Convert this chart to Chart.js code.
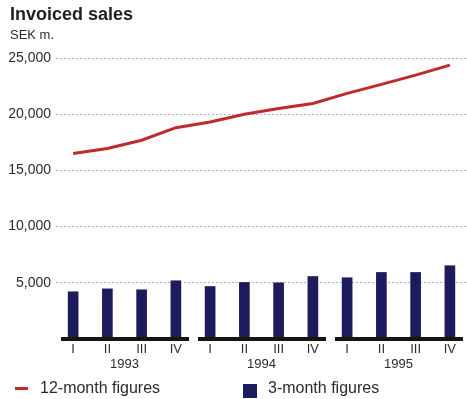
<!DOCTYPE html>
<html>
<head>
<meta charset="utf-8">
<script src="https://cdn.jsdelivr.net/npm/chart.js@4"></script>
<style>
	body { margin: 0; background: #fff; font-family: "Liberation Sans", Arial, sans-serif; color: #2b2b2b; }
	#wrap { position: relative; width: 467px; height: 399px; overflow: hidden; }
	#chart { position: absolute; left: 0; top: 0; }
	.title { position: absolute; left: 10px; top: 4px; font-size: 18px; font-weight: bold; color: #1f1f1f; }
	.unit { position: absolute; left: 10px; top: 27px; font-size: 13px; }
	.legend-item { position: absolute; top: 379px; font-size: 16px; }
	.legend-line { position: absolute; width: 13px; height: 3px; background: #bf2a2a; }
	.legend-box { position: absolute; width: 14px; height: 14px; background: #1c1c5c; }
</style>
</head>
<body>
<div id="wrap">
	<canvas id="chart" width="467" height="399"></canvas>
	<div class="title">Invoiced sales</div>
	<div class="unit">SEK m.</div>
	<span class="legend-line" style="left: 15px; top: 387px;"></span>
	<span class="legend-item" style="left: 40px;">12-month figures</span>
	<span class="legend-box" style="left: 243px; top: 384px;"></span>
	<span class="legend-item" style="left: 268px;">3-month figures</span>
</div>
<script>
//chart data
var QUARTERS = ['I', 'II', 'III', 'IV', 'I', 'II', 'III', 'IV', 'I', 'II', 'III', 'IV'];
var YEARS = ['1993', '1994', '1995'];
var SALES_12M = [16500, 16950, 17680, 18800, 19310, 20000, 20500, 20950, 21850, 22650, 23480, 24370];
var SALES_3M = [4200, 4460, 4380, 5180, 4670, 5030, 5000, 5560, 5450, 5920, 5920, 6520];
var Y_TICKS = [5000, 10000, 15000, 20000, 25000];

//draws the broken baseline and the year labels under each group of quarters
var yearAxisPlugin = {
	id: 'yearAxis',
	afterDatasetsDraw: function(chart) {
		var ctx = chart.ctx,
			x = chart.scales.x,
			y = chart.scales.y,
			step = x.getPixelForValue(1) - x.getPixelForValue(0),
			base = y.getPixelForValue(0);

		ctx.save();
		for ( var n = 0; n < YEARS.length; n++ ) {
			var first = x.getPixelForValue(n * 4),
				last = x.getPixelForValue(n * 4 + 3),
				left = Math.max(first - step / 2 + 5, chart.chartArea.left + 5),
				right = Math.min(last + step / 2 - 4, chart.width);
			//baseline segment
			ctx.fillStyle = '#1a1410';
			ctx.fillRect(left, base - 2, right - left, 4);
			//year label
			ctx.fillStyle = '#2b2b2b';
			ctx.font = '13px "Liberation Sans", Arial, sans-serif';
			ctx.textAlign = 'center';
			ctx.textBaseline = 'middle';
			ctx.fillText(YEARS[n], (x.getPixelForValue(n * 4 + 1) + x.getPixelForValue(n * 4 + 2)) / 2, base + 25);
		}
		ctx.restore();
	}
};

var ctx = document.getElementById('chart').getContext('2d');
var chart = new Chart(ctx, {
	data: {
		labels: QUARTERS,
		datasets: [{
			type: 'line',
			label: '12-month figures',
			data: SALES_12M,
			borderColor: '#bf2a2a',
			borderWidth: 3,
			pointRadius: 0,
			tension: 0,
			order: 0
		}, {
			type: 'bar',
			label: '3-month figures',
			data: SALES_3M,
			backgroundColor: '#1c1c5c',
			barThickness: 10,
			order: 1
		}]
	},
	options: {
		responsive: false,
		animation: false,
		layout: {
			padding: { top: 58, right: 0, bottom: 40, left: 0 }
		},
		plugins: {
			legend: { display: false },
			tooltip: { enabled: false }
		},
		scales: {
			x: {
				grid: { display: false, drawTicks: false },
				border: { display: false },
				ticks: {
					color: '#2b2b2b',
					padding: 3,
					font: { family: '"Liberation Sans", Arial, sans-serif', size: 13 }
				},
				afterFit: function(scale) { scale.height = 20; }
			},
			y: {
				min: 0,
				max: 25000,
				afterBuildTicks: function(scale) {
					scale.ticks = Y_TICKS.map(function(v) { return { value: v }; });
				},
				grid: {
					color: '#b4b4b4',
					lineWidth: 1,
					drawTicks: false
				},
				border: { display: false, dash: [2, 2] },
				ticks: {
					color: '#2b2b2b',
					padding: 5,
					font: { family: '"Liberation Sans", Arial, sans-serif', size: 14 },
					callback: function(v) { return v.toLocaleString('en-US'); }
				},
				afterFit: function(scale) { scale.width = 56; }
			}
		}
	},
	plugins: [yearAxisPlugin]
});
</script>
</body>
</html>
